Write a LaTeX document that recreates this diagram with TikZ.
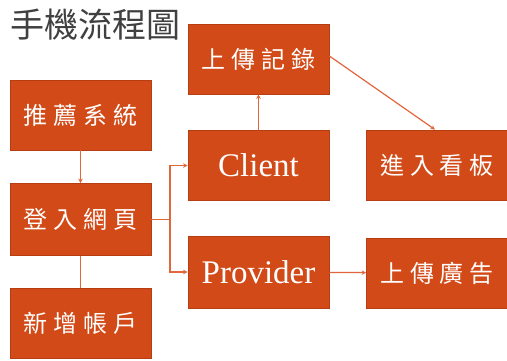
\documentclass[tikz,border=0pt]{standalone}
\usepackage{fontspec}
\setmainfont{Liberation Serif}
\newfontfamily\cjk[LetterSpace=24]{Noto Sans CJK TC}
\newfontfamily\cjktitle{Noto Sans CJK TC}
\usetikzlibrary{arrows.meta}
\definecolor{boxfill}{HTML}{D24A17}
\definecolor{boxline}{HTML}{B53E12}
\definecolor{conn}{HTML}{E2663C}
\definecolor{titlegray}{HTML}{404040}
\begin{document}
\begin{tikzpicture}[x=1pt,y=-1pt,
  box/.style={draw=boxline, fill=boxfill, line width=0.8pt, minimum width=141pt, minimum height=70pt, inner sep=0pt, text=white},
  zh/.style={font=\cjk\fontsize{24}{26}\selectfont},
  en/.style={font=\fontsize{33}{36}\selectfont},
  link/.style={draw=conn, line width=1.2pt},
  tip/.style={-{Stealth[length=4.5pt,width=4.5pt]}}]
\useasboundingbox[fill=white] (0,0) rectangle (507,360);
\node[text=titlegray, font=\cjktitle\fontsize{34}{36}\selectfont, anchor=west] (title) at (7,25) {手機流程圖};
\node[box,zh] (rec) at (258.5,59) {上傳記錄};
\node[box,zh] (tui) at (80.5,115) {推薦系統};
\node[box,en] (client) at (258.5,165.5) {Client};
\node[box,zh] (kanban) at (437,165) {進入看板};
\node[box,zh,minimum height=72pt] (login) at (80.5,219.5) {登入網頁};
\node[box,en,minimum height=72pt] (provider) at (258.5,272) {Provider};
\node[box,zh] (ad) at (437,273) {上傳廣告};
\node[box,zh] (newacc) at (80.5,323.5) {新增帳戶};
\coordinate (j) at (170,219.5);
\draw[link,tip] (tui) -- (login);
\draw[link] (login) -- (newacc);
\draw[link] (login.east) -- (j);
\draw[link,tip] (j) |- (client.west);
\draw[link,tip] (j) |- (provider.west);
\draw[link,tip] (client) -- (rec);
\draw[link,tip] ([yshift=3pt]rec.east) -- ([xshift=-2pt]kanban.north);
\draw[link,tip] (provider) -- (ad);
\end{tikzpicture}
\end{document}
